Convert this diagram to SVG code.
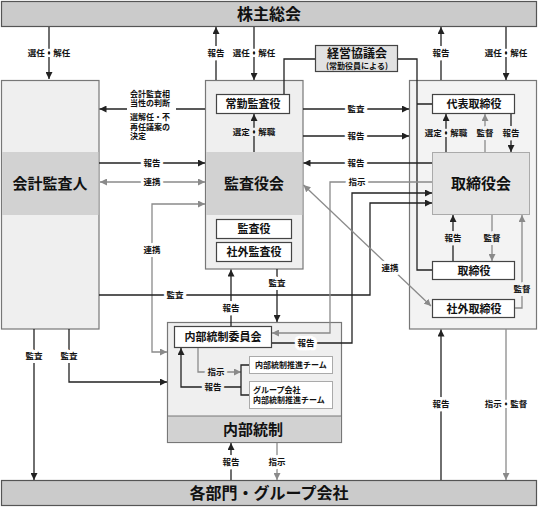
<svg xmlns="http://www.w3.org/2000/svg" width="538" height="507" viewBox="0 0 538 507">
<style>
text{font-family:"Noto Sans CJK JP","Noto Sans",sans-serif;text-anchor:middle;fill:#111}
.bar{fill:#cbcbcb;stroke:#555;stroke-width:1.2}
.outer{fill:#efefef;stroke:#777;stroke-width:1.2}
.outerR{fill:#f3f3f3;stroke:#777;stroke-width:1.2}
.dark{fill:#d2d2d2}
.inner{fill:#fff;stroke:#444;stroke-width:1.2}
.innerL{fill:#fff;stroke:#aaa;stroke-width:1}
.big{font-size:15px;font-weight:bold}
.mid{font-size:11px;font-weight:bold}
.lab{font-size:8.5px;font-weight:bold;paint-order:stroke;stroke:#fff;stroke-width:6px;stroke-linejoin:round}
.lab.g1{stroke:#efefef}
.lab.g2{stroke:#f3f3f3}
.sm{font-size:8px;font-weight:bold}
.blk{font-size:8px;font-weight:bold;text-anchor:start}
.k{fill:none;stroke:#222;stroke-width:1.3}
.kg{fill:none;stroke:#8a8a8a;stroke-width:1.3}
</style>
<defs>
<marker id="ab" markerUnits="userSpaceOnUse" markerWidth="8" markerHeight="7" refX="7" refY="3.5" orient="auto"><path d="M0,0 L7,3.5 L0,7 z" fill="#222"/></marker>
<marker id="ag" markerUnits="userSpaceOnUse" markerWidth="8" markerHeight="7" refX="7" refY="3.5" orient="auto-start-reverse"><path d="M0,0 L7,3.5 L0,7 z" fill="#8a8a8a"/></marker>
</defs>

<g id="shareholders">
<rect class="bar" x="1.5" y="1.5" width="535" height="25"/>
<text class="big" x="269" y="20" style="font-size:16px">株主総会</text>
</g>
<g id="departments">
<rect class="bar" x="1.5" y="480.5" width="535" height="25"/>
<text class="big" x="269" y="499" style="font-size:16px">各部門・グループ会社</text>
</g>

<g id="auditor">
<rect class="outer" x="1.5" y="80.5" width="97.5" height="248.5"/>
<rect class="dark" x="2.1" y="152" width="96.3" height="63"/>
<text class="big" x="50" y="189">会計監査人</text>
</g>

<g id="kansayakukai">
<rect class="outer" x="205.5" y="80.5" width="97.5" height="188.5"/>
<rect class="dark" x="206.1" y="152" width="96.3" height="63"/>
<text class="big" x="254" y="189">監査役会</text>
</g>
<g id="joukin"><rect class="inner" x="216.5" y="94.5" width="73" height="19"/><text class="mid" x="253" y="108">常勤監査役</text></g>
<g id="kansayaku"><rect class="inner" x="216.5" y="219.5" width="75" height="19"/><text class="mid" x="254" y="233">監査役</text></g>
<g id="shagaikansayaku"><rect class="inner" x="216.5" y="242.5" width="75" height="19"/><text class="mid" x="254" y="256">社外監査役</text></g>

<g id="torishimariyakukai">
<rect class="outerR" x="409.5" y="80.5" width="127" height="248.5"/>
<rect x="432.5" y="152.5" width="97" height="62" fill="#e4e4e4" stroke="#aaa" stroke-width="1"/>
<text class="big" x="481" y="189">取締役会</text>
</g>
<g id="daihyo"><rect class="inner" x="432.5" y="94.5" width="82" height="19"/><text class="mid" x="474" y="108">代表取締役</text></g>
<g id="torishimariyaku"><rect class="inner" x="432.5" y="261.5" width="82" height="18"/><text class="mid" x="474" y="275">取締役</text></g>
<g id="shagaitorishimariyaku"><rect class="inner" x="432.5" y="299.5" width="82" height="18"/><text class="mid" x="474" y="313">社外取締役</text></g>

<g id="keiei">
<rect x="315.5" y="45.5" width="82" height="26" fill="#e2e2e2" stroke="#444" stroke-width="1.2"/>
<text class="mid" x="357" y="58" style="font-size:12px">経営協議会</text>
<text class="sm" x="357" y="69">(常勤役員による)</text>
</g>

<g id="naibutousei">
<rect class="outer" x="167.5" y="322.5" width="174" height="120"/>
<rect class="dark" x="168.1" y="416" width="172.8" height="26"/>
<line x1="167.5" y1="416" x2="341.5" y2="416" stroke="#777" stroke-width="1"/>
<text class="big" x="253" y="435">内部統制</text>
</g>
<g id="iinkai"><rect class="inner" x="174.5" y="326.5" width="97" height="21"/><text class="mid" x="223" y="341">内部統制委員会</text></g>
<g id="suishin"><rect class="innerL" x="249.5" y="356.5" width="83" height="17"/><text class="sm" x="291" y="368">内部統制推進チーム</text></g>
<g id="group"><rect class="innerL" x="249.5" y="381.5" width="83" height="27"/><text class="blk" x="253" y="393">グループ会社</text><text class="blk" x="253" y="403">内部統制推進チーム</text></g>

<g id="connectors">
<path class="k" d="M49,27 V79" marker-end="url(#ab)"/>
<path class="k" d="M216,80 V27" marker-end="url(#ab)"/>
<path class="k" d="M254,27 V80" marker-end="url(#ab)"/>
<path class="k" d="M441,80 V27" marker-end="url(#ab)"/>
<path class="k" d="M506,27 V80" marker-end="url(#ab)"/>
<path class="k" d="M284,94 V59 H315"/>
<path class="k" d="M398,59 H417 V270 H432 M417,104 H432"/>
<path class="k" d="M205,109 H99.5" marker-end="url(#ab)"/>
<path class="k" d="M303,109 H409" marker-end="url(#ab)"/>
<path class="k" d="M303,136 H409" marker-end="url(#ab)"/>
<path class="k" d="M432,163 H303.5" marker-end="url(#ab)"/>
<path class="k" d="M99,163 H205" marker-end="url(#ab)"/>
<path class="kg" d="M100,182 H205" marker-start="url(#ag)" marker-end="url(#ag)"/>
<path class="kg" d="M167,352 H152 V204 H205" marker-start="url(#ag)" marker-end="url(#ag)"/>
<path class="k" d="M99,295 H370 V203 H432" marker-end="url(#ab)"/>
<path class="kg" d="M432,182 H330 V333 H272" marker-end="url(#ag)"/>
<path class="k" d="M272,343 H352 V193 H432" marker-end="url(#ab)"/>
<path class="kg" d="M303.5,185 L431,306" marker-start="url(#ag)" marker-end="url(#ag)"/>
<path class="k" d="M254,152 V114" marker-end="url(#ab)"/>
<path class="k" d="M231,326 V269.5" marker-end="url(#ab)"/>
<path class="k" d="M277,269 V322" marker-end="url(#ab)"/>
<path class="k" d="M446,152 V114" marker-end="url(#ab)"/>
<path class="kg" d="M485,152 V114" marker-end="url(#ag)"/>
<path class="k" d="M511,114 V152" marker-end="url(#ab)"/>
<path class="k" d="M453,261 V215" marker-end="url(#ab)"/>
<path class="kg" d="M492,215 V261" marker-end="url(#ag)"/>
<path class="kg" d="M515,308 H522 V215" marker-end="url(#ag)"/>
<path class="k" d="M34,329 V480" marker-end="url(#ab)"/>
<path class="k" d="M69,329 V382 H167" marker-end="url(#ab)"/>
<path class="kg" d="M198,348 V372 H241" marker-end="url(#ag)"/>
<path class="k" d="M241,387 H181 V348" marker-end="url(#ab)"/>
<path class="k" d="M249,365 H241 V395 H249"/>
<path class="k" d="M231,480 V443" marker-end="url(#ab)"/>
<path class="kg" d="M277,443 V480" marker-end="url(#ag)"/>
<path class="k" d="M441,480 V329.5" marker-end="url(#ab)"/>
<path class="kg" d="M506,329 V480" marker-end="url(#ag)"/>

<text class="lab" x="49" y="56">選任・解任</text>
<text class="lab" x="216" y="56">報告</text>
<text class="lab" x="254" y="56">選任・解任</text>
<text class="lab" x="441" y="56">報告</text>
<text class="lab" x="506" y="56">選任・解任</text>
<rect x="127" y="88" width="49" height="53" fill="#fff"/>
<text class="blk" x="130" y="96.5">会計監査相</text>
<text class="blk" x="130" y="106">当性の判断</text>
<text class="blk" x="130" y="120">選解任・不</text>
<text class="blk" x="130" y="129.5">再任議案の</text>
<text class="blk" x="130" y="139">決定</text>
<text class="lab" x="356" y="112">監査</text>
<text class="lab" x="356" y="139">報告</text>
<text class="lab" x="356" y="166">報告</text>
<text class="lab" x="152" y="166">報告</text>
<text class="lab" x="152" y="185">連携</text>
<text class="lab" x="152" y="253">連携</text>
<text class="lab" x="175" y="298">監査</text>
<text class="lab" x="357" y="185">指示</text>
<text class="lab" x="306" y="346">報告</text>
<text class="lab" x="390" y="271">連携</text>
<text class="lab g1" x="254" y="135">選定・解職</text>
<text class="lab" x="231" y="311">報告</text>
<text class="lab" x="277" y="286">監査</text>
<text class="lab g2" x="446" y="136">選定・解職</text>
<text class="lab g2" x="485" y="136">監督</text>
<text class="lab g2" x="511" y="136">報告</text>
<text class="lab g2" x="453" y="241">報告</text>
<text class="lab g2" x="492" y="241">監督</text>
<text class="lab g2" x="522" y="292">監督</text>
<text class="lab" x="34" y="359">監査</text>
<text class="lab" x="69" y="359">監査</text>
<text class="lab g1" x="216" y="375">指示</text>
<text class="lab g1" x="213" y="390">報告</text>
<text class="lab" x="231" y="465">報告</text>
<text class="lab" x="277" y="465">指示</text>
<text class="lab" x="441" y="407">報告</text>
<text class="lab" x="506" y="407">指示・監督</text>
</g>
</svg>
